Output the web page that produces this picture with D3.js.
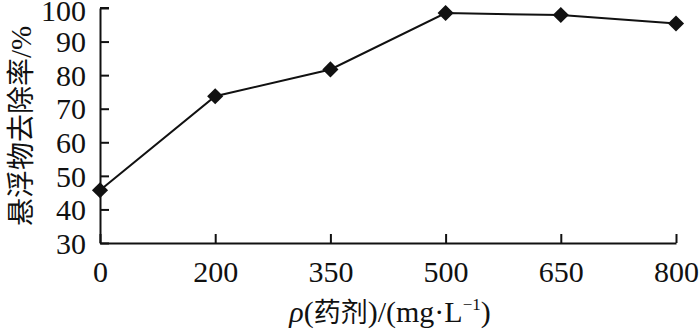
<!DOCTYPE html>
<html>
<head>
<meta charset="utf-8">
<script src="https://cdn.jsdelivr.net/npm/d3@7"></script>
<style>
    body { margin: 0; background: #fff; }
    text, tspan { font-family: "Liberation Serif", "DejaVu Serif", "Times New Roman", serif; fill: #111; }
    .cjk { font-family: "Noto Sans CJK SC", sans-serif; }
</style>
</head>
<body>
<svg id="drawing_region"></svg>
<script>
const doses = ['0', '200', '350', '500', '650', '800'];
const removal = [45.7, 73.7, 81.7, 98.5, 97.9, 95.4];
const yticks = [30, 40, 50, 60, 70, 80, 90, 100];

const SERIF = '"Liberation Serif", "DejaVu Serif", "Times New Roman", serif';

var config = {
    parent: '#drawing_region',
    width: 700,
    height: 333,
    margin: {top:8, right:24, bottom:90, left:100},
};

class LineChart {
    constructor(config, data) {
        this.config = config;
        this.data = data;
        this.init();
    }
    init() {
        let self = this;

        self.svg = d3.select(self.config.parent)
            .attr('width', self.config.width)
            .attr('height', self.config.height);

        self.chart = self.svg.append('g')
            .attr('transform', `translate(${self.config.margin.left}, ${self.config.margin.top})`);
        self.inner_width = self.config.width - self.config.margin.left - self.config.margin.right;
        self.inner_height = self.config.height - self.config.margin.top - self.config.margin.bottom;

        self.xscale = d3.scalePoint()
            .domain(doses)
            .range([0, self.inner_width]);

        self.yscale = d3.scaleLinear()
            .domain([30, 100])
            .range([self.inner_height, 0]);

        // ticks point inward, like the original
        self.xaxis = d3.axisBottom(self.xscale)
            .tickSizeInner(-9)
            .tickSizeOuter(0)
            .tickPadding(18);

        self.yaxis = d3.axisLeft(self.yscale)
            .tickValues(yticks)
            .tickSizeInner(-9)
            .tickSizeOuter(0)
            .tickPadding(14);
    }
    render() {
        let self = this;

        self.xaxis_group = self.chart.append('g')
            .attr('transform', `translate(0, ${self.inner_height})`)
            .call(self.xaxis);

        self.yaxis_group = self.chart.append('g')
            .call(self.yaxis);

        self.chart.selectAll('g').attr('font-family', SERIF);

        // little bracket at the top of the y axis
        self.yaxis_group.append('line')
            .attr('x1', 0).attr('x2', 9)
            .attr('y1', 0).attr('y2', 0)
            .attr('stroke', '#111').attr('stroke-width', 2);

        self.chart.selectAll('.domain')
            .attr('stroke', '#111')
            .attr('stroke-width', 2);
        self.chart.selectAll('.tick line')
            .attr('stroke', '#111')
            .attr('stroke-width', 2);
        self.chart.selectAll('.tick text')
            .style('font-family', SERIF)
            .style('font-size', '30px')
            .attr('fill', '#111');
        self.xaxis_group.selectAll('.tick text').attr('dy', '0.71em');
        self.yaxis_group.selectAll('.tick text').attr('dy', '0.34em');
        self.yaxis_group.selectAll('.tick text').filter(d => d === 100).attr('dy', '0.4em');

        const line = d3.line()
            .x(d => self.xscale(d.x))
            .y(d => self.yscale(d.y));

        self.chart.append('path')
            .datum(self.data)
            .attr('d', line)
            .attr('stroke', '#111')
            .attr('stroke-width', 2)
            .attr('fill', 'none');

        self.chart.selectAll('.marker')
            .data(self.data)
            .enter()
            .append('path')
            .attr('class', 'marker')
            .attr('d', d3.symbol().type(d3.symbolSquare).size(130))
            .attr('transform', d => `translate(${self.xscale(d.x)}, ${self.yscale(d.y)}) rotate(45)`)
            .attr('fill', '#111');

        // axis titles
        const xt = self.svg.append('text')
            .attr('x', 390)
            .attr('y', 322)
            .attr('text-anchor', 'middle')
            .style('font-family', SERIF)
            .style('font-size', '30px');
        xt.append('tspan').style('font-style', 'italic').text('ρ');
        xt.append('tspan').text('(');
        xt.append('tspan').attr('class', 'cjk').style('font-size', '27px').text('药剂');
        xt.append('tspan').text(')/(mg·L');
        xt.append('tspan').attr('dy', -12).style('font-size', '17px').text('−1');
        xt.append('tspan').attr('dy', 12).text(')');

        const yt = self.svg.append('text')
            .attr('transform', 'translate(31, 126) rotate(-90)')
            .attr('text-anchor', 'middle')
            .style('font-family', SERIF)
            .style('font-size', '29px');
        yt.append('tspan').attr('class', 'cjk').style('font-size', '28px').text('悬浮物去除率');
        yt.append('tspan').text('/%');
    }
}

const data = doses.map((d, i) => ({x: d, y: removal[i]}));
const line_chart = new LineChart(config, data);
line_chart.render();
</script>
</body>
</html>
